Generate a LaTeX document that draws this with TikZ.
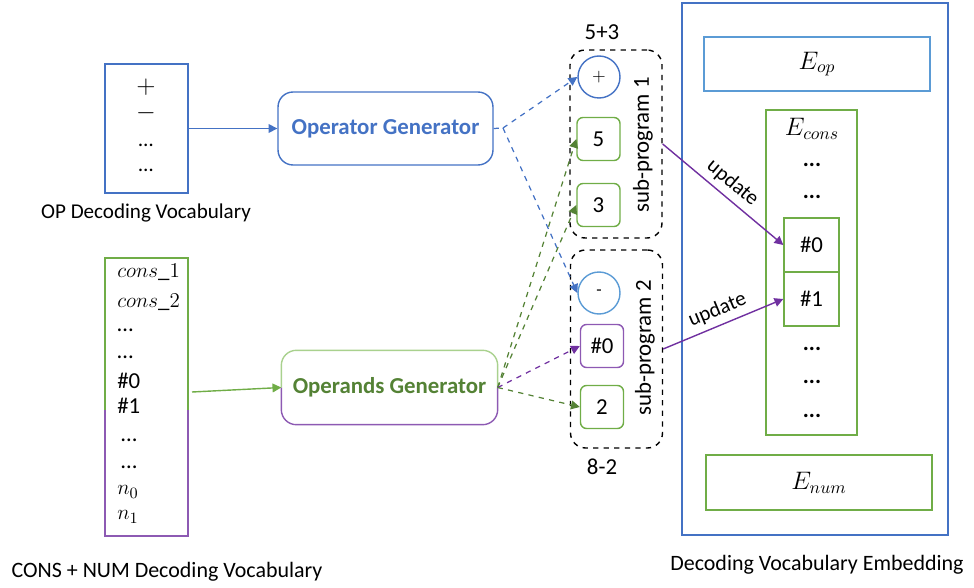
\documentclass[tikz,border=0pt]{standalone}
\usepackage{fontspec}
\setmainfont{Carlito}
\usetikzlibrary{arrows.meta,positioning}

\definecolor{opblue}{HTML}{4472C4}
\definecolor{lightblue}{HTML}{5B9BD5}
\definecolor{numgreen}{HTML}{70AD47}
\definecolor{paleg}{HTML}{A9D18E}
\definecolor{darkg}{HTML}{548235}
\definecolor{numpurple}{HTML}{7030A0}

\tikzset{
  txt/.style={font=\fontsize{12}{14}\selectfont, inner sep=0pt},
  vocab/.style={draw=#1, line width=0.8pt, minimum width=1.66cm},
  gen/.style={rounded corners=0.3cm, line width=0.8pt, minimum width=4.3cm, minimum height=1.46cm},
  slot/.style={draw=#1, rounded corners=0.12cm, line width=0.8pt, minimum size=0.86cm, font=\fontsize{13}{15}\selectfont},
  opcirc/.style={draw=#1, circle, line width=0.8pt, minimum size=0.84cm, inner sep=0pt},
  subprog/.style={draw, dashed, rounded corners=0.3cm, line width=0.8pt, minimum width=1.84cm},
  emb/.style={draw=#1, line width=0.8pt, font=\fontsize{14}{16}\selectfont},
  arr/.style={-{Triangle[length=5pt,width=5pt]}, line width=0.8pt},
  darr/.style={-{Triangle[length=5pt,width=5pt]}, dashed, line width=0.7pt}
}

\begin{document}
\begin{tikzpicture}[x=0.02cm,y=-0.02cm]
\useasboundingbox (0,0) rectangle (974,588);

% OP decoding vocabulary
\node[vocab=opblue, minimum height=2.58cm] (opvocab) at (146.5,128.5) {};
\node[txt, font=\fontsize{15}{17}\selectfont] (opplus) at (146,87) {$+$};
\node[txt, font=\fontsize{15}{17}\selectfont] (opminus) at (146,113) {$-$};
\node[txt] (opdots1) at (146,145) {\ldots};
\node[txt] (opdots2) at (146,170) {\ldots};
\node[txt] (oplabel) at (146,213) {OP Decoding Vocabulary};

% CONS + NUM decoding vocabulary
\node[minimum width=1.66cm, minimum height=5.56cm] (consvocab) at (146.5,397) {};
\draw[numgreen, line width=0.8pt] (105,410) -- (105,258) -- (188,258) -- (188,410);
\draw[numpurple!80, line width=0.8pt] (105,410) -- (105,536) -- (188,536) -- (188,410);
\foreach \t/\y in {{$cons\_1$}/272, {$cons\_2$}/302, {\ldots}/330, {\ldots}/357,
                   {\#0}/381, {\#1}/406, {\,\ldots}/440, {\,\ldots}/467, {$n_0$}/492, {$n_1$}/517}
  \node[txt, font=\fontsize{13}{15}\selectfont, anchor=west] at (117,\y) {\t};
\node[txt, font=\fontsize{12.5}{15}\selectfont] (conslabel) at (167,572) {CONS + NUM Decoding Vocabulary};

% generators
\node[gen, draw=opblue] (opgen) at (385.5,128.5) {};
\node[txt, font=\fontsize{13}{15}\selectfont\bfseries, text=opblue] at (opgen) {Operator Generator};
\node[gen] (argen) at (389.5,387.5) {};
\draw[paleg, line width=0.8pt, rounded corners=0.3cm] (argen.west) |- (argen.north) -| (argen.east);
\draw[numpurple!80, line width=0.8pt, rounded corners=0.3cm] (argen.west) |- (argen.south) -| (argen.east);
\node[txt, font=\fontsize{13}{15}\selectfont\bfseries, text=darkg] at (argen) {Operands Generator};

\draw[arr, opblue] (opvocab.east) -- (opgen.west);
\draw[arr, numgreen] (192,392) -- (argen.west);

% sub-programs
\node[subprog, minimum height=3.76cm] (sp1) at (616,144) {};
\node[subprog, minimum height=3.96cm] (sp2) at (616.5,349) {};
\node[txt, font=\fontsize{13}{15}\selectfont, rotate=90] at (643,145) {sub-program 1};
\node[txt, font=\fontsize{13}{15}\selectfont, rotate=90] at (645,348) {sub-program 2};
\node[txt, font=\fontsize{13}{15}\selectfont] (sp1res) at (602,32) {5+3};
\node[txt, font=\fontsize{13}{15}\selectfont] (sp2res) at (602,467) {8-2};

\node[opcirc=opblue] (plus) at (599,77) {$+$};
\node[slot=numgreen] (five) at (598.5,139) {5};
\node[slot=numgreen] (three) at (598.5,205) {3};
\node[opcirc=lightblue] (minus) at (599,293) {-};
\node[slot=numpurple!80] (hash0) at (602,346) {\#0};
\node[slot=numgreen] (two) at (602,407) {2};

% generator outputs
\coordinate (opfork) at (503,128);
\draw[opblue, dashed, line width=0.7pt] (opgen.east) -- (opfork);
\draw[darr, opblue] (opfork) -- (plus.west);
\draw[darr, opblue] (opfork) -- (minus.west);
\draw[darr, darkg] (argen.east) -- (five.west);
\draw[darr, darkg] (argen.east) -- (three.west);
\draw[darr, numpurple] (argen.east) -- (hash0.west);
\draw[darr, darkg] (argen.east) -- (two.west);

% decoding vocabulary embedding
\node[emb=opblue, minimum width=5.32cm, minimum height=10.64cm] (embed) at (815,269) {};
\node[txt, font=\fontsize{12.5}{15}\selectfont] (emblabel) at (817,565) {Decoding Vocabulary Embedding};
\node[emb=lightblue, minimum width=4.52cm, minimum height=1.08cm] (eop) at (817,64) {$E_{op}$};
\node[emb=numgreen, minimum width=1.82cm, minimum height=6.5cm] (econs) at (811.5,272.5) {};
\node[txt, font=\fontsize{14}{16}\selectfont] at (812,129) {$E_{cons}$};
\node[emb=numgreen, minimum width=1.1cm, minimum height=1.08cm, font=\fontsize{13}{15}\selectfont] (ehash0) at (811.5,245) {\#0};
\node[emb=numgreen, minimum width=1.1cm, minimum height=1.08cm, font=\fontsize{13}{15}\selectfont] (ehash1) at (811.5,299) {\#1};
\foreach \y in {165,197,349,382,416}
  \node[txt, font=\fontsize{13}{15}\selectfont\bfseries] at (812,\y) {...};
\node[emb=numgreen, minimum width=4.52cm, minimum height=1.1cm] (enum) at (819,482.5) {$E_{num}$};

% updates
\draw[arr, numpurple] (sp1.east) -- node[txt, text=black, sloped, above=3pt] {update} (ehash0.west);
\draw[arr, numpurple] (sp2.east) -- node[txt, text=black, sloped, above=3pt] {update} (ehash1.west);
\end{tikzpicture}
\end{document}
